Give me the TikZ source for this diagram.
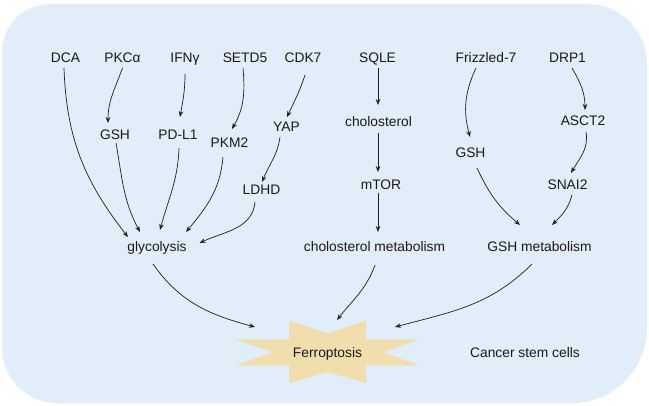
\documentclass[tikz,border=0pt]{standalone}
\usepackage{fontspec}
\setmainfont{Liberation Sans}
\usetikzlibrary{arrows.meta}
\definecolor{bgblue}{RGB}{225,237,248}
\definecolor{starcol}{RGB}{240,223,172}
\definecolor{linecol}{RGB}{30,30,30}
\begin{document}
\begin{tikzpicture}[x=1pt,y=1pt,
  lbl/.style={anchor=base, inner sep=0pt, outer sep=0pt, text height=10pt, text depth=0pt, font=\fontsize{13.8}{16}\selectfont, text=black!90},
  arr/.style={draw=linecol, line width=0.7pt, -{Stealth[length=6pt,width=4.6pt]}}]
\useasboundingbox (0,0) rectangle (649,405);
\fill[bgblue] (2,353) arc[start angle=180,end angle=90,radius=48] -- (587,401) arc[start angle=90,end angle=0,radius=60] -- (647,77) arc[start angle=0,end angle=-90,radius=75] -- (57,2) arc[start angle=270,end angle=180,radius=55] -- cycle;
% star
\fill[starcol] (289.3,84.3) -- (327.3,71.7) -- (366,84.3) -- (366,65.7) -- (420,65.7) -- (382.7,52.7) -- (420,39.7) -- (366,39.7) -- (366,21.7) -- (327.3,33.3) -- (289.3,21.7) -- (289.3,39.7) -- (235,39.7) -- (273.3,52.7) -- (235,65.7) -- (289.3,65.7) -- cycle;
% nodes
\node[lbl] (DCA) at (65.5,342) {DCA};
\node[lbl] (PKCa) at (122.5,342) {PKCα};
\node[lbl] (IFNg) at (185,342) {IFNγ};
\node[lbl] (SETD5) at (245,342) {SETD5};
\node[lbl] (CDK7) at (303,342) {CDK7};
\node[lbl] (SQLE) at (377.5,342) {SQLE};
\node[lbl] (Friz) at (486,342) {Frizzled-7};
\node[lbl] (DRP1) at (567.5,342) {DRP1};
\node[lbl] (GSHa) at (115,265) {GSH};
\node[lbl] (PDL1) at (178,265) {PD-L1};
\node[lbl] (PKM2) at (229.5,257) {PKM2};
\node[lbl] (YAP) at (286.5,273) {YAP};
\node[lbl] (LDHD) at (261.5,210) {LDHD};
\node[lbl] (chol) at (378.5,278) {cholosterol};
\node[lbl] (ASCT2) at (583,279) {ASCT2};
\node[lbl] (GSHb) at (470.5,247) {GSH};
\node[lbl] (mTOR) at (381,215) {mTOR};
\node[lbl] (SNAI2) at (567.5,215) {SNAI2};
\node[lbl] (gly) at (157,153) {glycolysis};
\node[lbl] (cholm) at (374.5,153) {cholosterol metabolism};
\node[lbl] (gshm) at (539.5,153) {GSH metabolism};
\node[lbl] (Ferro) at (327.5,48) {Ferroptosis};
\node[lbl] (CSC) at (525,48) {Cancer stem cells};
% connectors
\draw[arr] ([shift={(-1.5,-5)}]DCA.south) to[out=272,in=128] ([shift={(-29,5)}]gly.north);
\draw[arr] ([shift={(0,-5)}]PKCa.south) to[out=250,in=90] ([shift={(-7,7)}]GSHa.north);
\draw[arr] ([shift={(0,-11)}]IFNg.south) to[out=270,in=80] ([shift={(2,13)}]PDL1.north);
\draw[arr] ([shift={(-2,-5)}]SETD5.south) to[out=275,in=60] ([shift={(2.5,9)}]PKM2.north);
\draw[arr] ([shift={(2,-12)}]CDK7.south) to[out=252,in=65] ([shift={(0.5,5)}]YAP.north);
\draw[arr] ([shift={(-6.5,-5)}]YAP.south) to[out=262,in=68] ([shift={(0.5,3)}]LDHD.north);
\draw[arr] ([shift={(1,-3)}]GSHa.south) to[out=280,in=118] ([shift={(-17,10)}]gly.north);
\draw[arr] ([shift={(1,-8)}]PDL1.south) to[out=268,in=75] ([shift={(3,12)}]gly.north);
\draw[arr] ([shift={(-6.5,-9)}]PKM2.south) to[out=265,in=50] ([shift={(29,10)}]gly.north);
\draw[arr] ([shift={(-6.5,-7)}]LDHD.south) to[out=265,in=25] ([shift={(13,4)}]gly.east);
\draw[arr] ([shift={(-4,-12)}]gly.south) to[out=-55,in=165] ([shift={(-72.5,20)}]Ferro.north);
\draw[arr] ([shift={(0.5,-5)}]SQLE.south) -- ([shift={(-0.5,12)}]chol.north);
\draw[arr] ([shift={(-0.5,-6)}]chol.south) -- ([shift={(-3,8)}]mTOR.north);
\draw[arr] ([shift={(-3,-3)}]mTOR.south) -- ([shift={(3.5,10)}]cholm.north);
\draw[arr] ([shift={(0.5,-13)}]cholm.south) to[out=250,in=52] ([shift={(9.5,27)}]Ferro.north);
\draw[arr] ([shift={(-10,-5)}]Friz.south) to[out=245,in=105] ([shift={(-0.5,11)}]GSHb.north);
\draw[arr] ([shift={(4.5,-5)}]DRP1.south) to[out=300,in=90] ([shift={(2,6)}]ASCT2.north);
\draw[arr] ([shift={(3,-6)}]ASCT2.south) to[out=280,in=60] ([shift={(3.5,7)}]SNAI2.north);
\draw[arr] ([shift={(6.5,-10)}]GSHb.south) to[out=295,in=140] ([shift={(-19.5,17)}]gshm.north);
\draw[arr] ([shift={(4.5,-5)}]SNAI2.south) to[out=255,in=45] ([shift={(12.5,17)}]gshm.north);
\draw[arr] ([shift={(-7.5,-12)}]gshm.south) to[out=225,in=15] ([shift={(67.5,20)}]Ferro.north);
\end{tikzpicture}
\end{document}
